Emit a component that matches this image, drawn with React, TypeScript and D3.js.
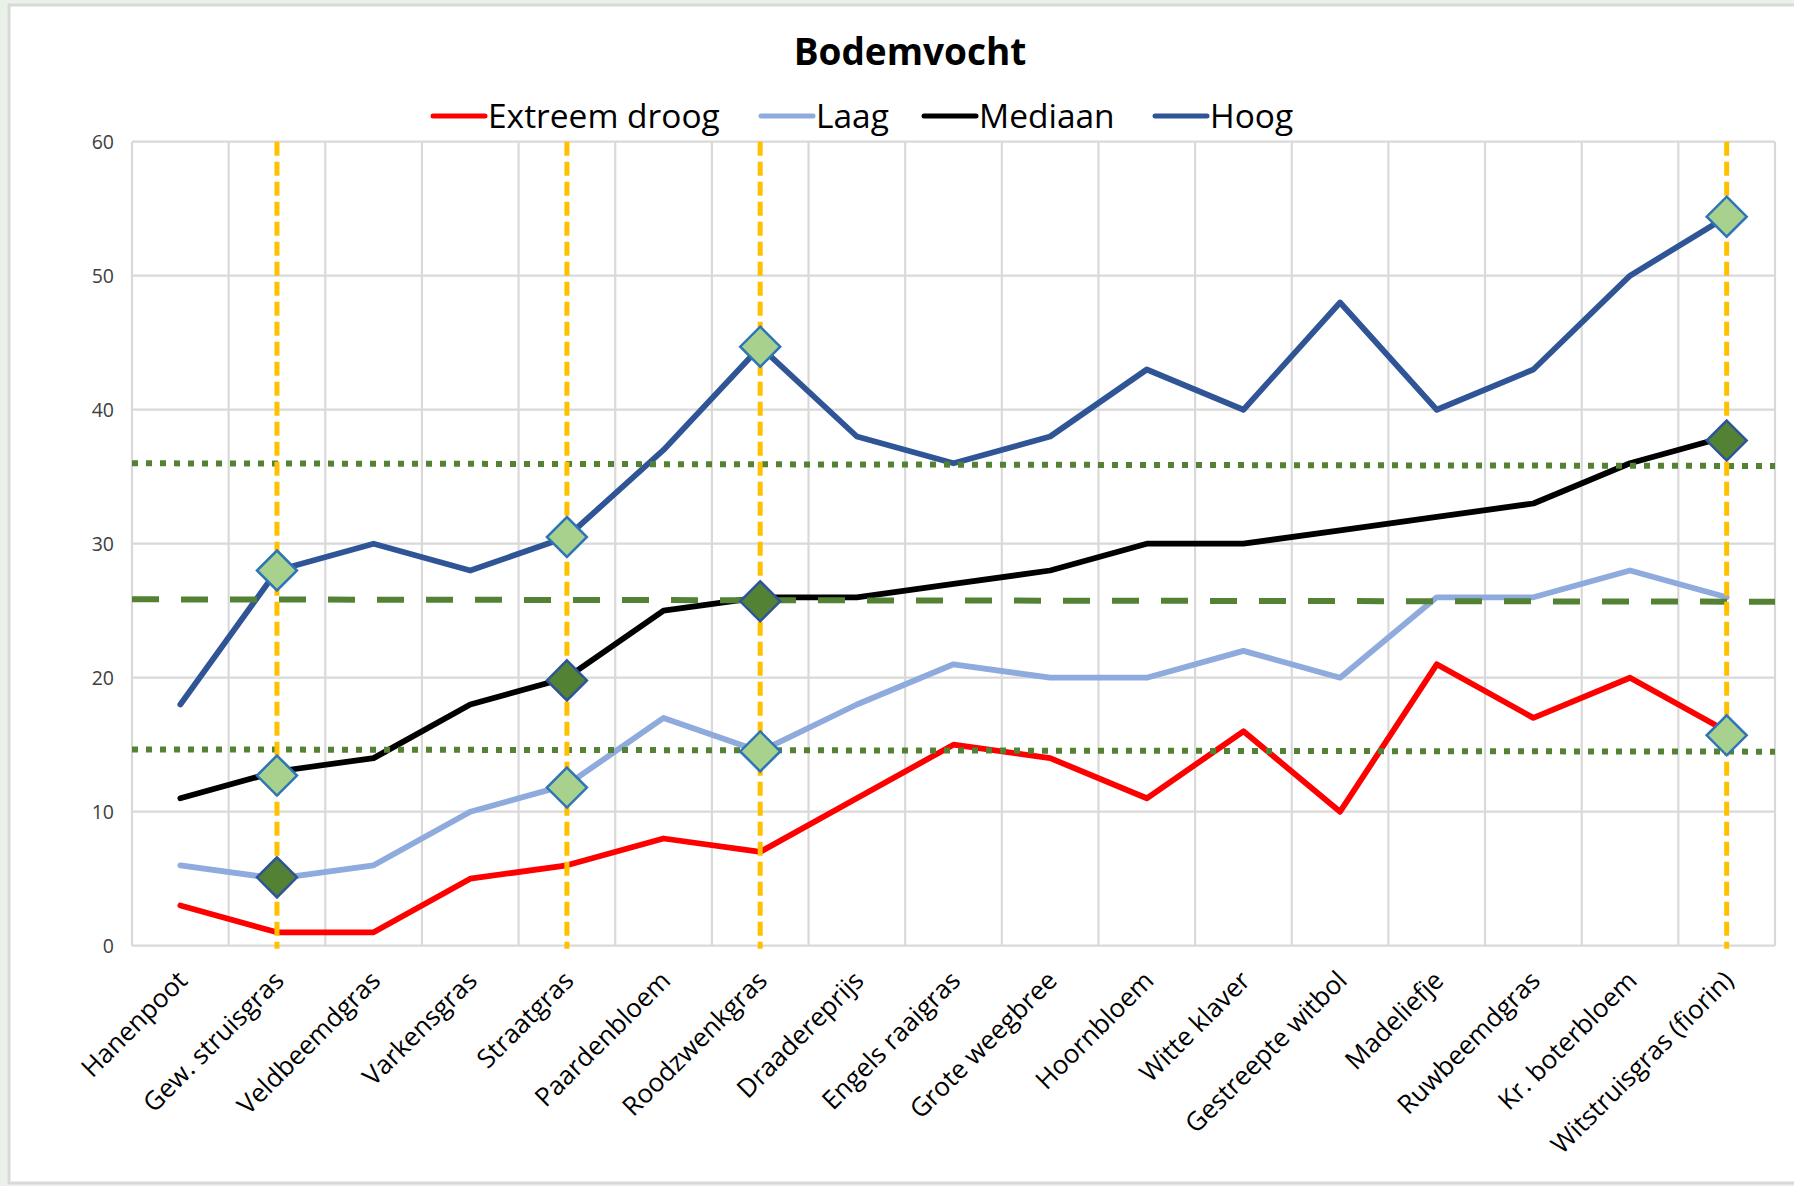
import React from 'react';
import * as d3 from 'd3';

const categories = [
  'Hanenpoot', 'Gew. struisgras', 'Veldbeemdgras', 'Varkensgras', 'Straatgras',
  'Paardenbloem', 'Roodzwenkgras', 'Draadereprijs', 'Engels raaigras', 'Grote weegbree',
  'Hoornbloem', 'Witte klaver', 'Gestreepte witbol', 'Madeliefje', 'Ruwbeemdgras',
  'Kr. boterbloem', 'Witstruisgras (fiorin)',
];
const extreemDroog = [3, 1, 1, 5, 6, 8, 7, 11, 15, 14, 11, 16, 10, 21, 17, 20, 16];
const laag = [6, 5, 6, 10, 12, 17, 14.5, 18, 21, 20, 20, 22, 20, 26, 26, 28, 26];
const mediaan = [11, 13, 14, 18, 20, 25, 26, 26, 27, 28, 30, 30, 31, 32, 33, 36, 38];
const hoog = [18, 28, 30, 28, 30.5, 37, 44.7, 38, 36, 38, 43, 40, 48, 40, 43, 50, 54.4];
const yTicks = [0, 10, 20, 30, 40, 50, 60];

const seriesNames = ['Extreem droog', 'Laag', 'Mediaan', 'Hoog'];
const seriesColors = ['#ff0000', '#8faadc', '#000000', '#2f5597'];

const highlightCategories = ['Gew. struisgras', 'Straatgras', 'Roodzwenkgras', 'Witstruisgras (fiorin)'];
const lightMarkerCats = ['Gew. struisgras', 'Gew. struisgras', 'Straatgras', 'Straatgras', 'Roodzwenkgras', 'Roodzwenkgras', 'Witstruisgras (fiorin)', 'Witstruisgras (fiorin)'];
const lightMarkerValues = [28, 12.7, 30.5, 11.8, 44.7, 14.5, 54.4, 15.7];
const darkMarkerCats = ['Gew. struisgras', 'Straatgras', 'Roodzwenkgras', 'Witstruisgras (fiorin)'];
const darkMarkerValues = [5.1, 19.8, 25.7, 37.7];

const refLineStart = [36.0, 25.85, 14.65];
const refLineEnd = [35.8, 25.67, 14.48];
const refLineDash = ['6 8', '27 22', '6 8'];

const W = 1794;
const H = 1186;
const PL = 132;
const PR = 1775;
const PT = 141.7;
const PB = 945.7;
const FONT = "'Open Sans', 'Noto Sans', sans-serif";

export default function App() {
  const x = d3.scaleBand<string>().domain(categories).range([PL, PR]).padding(0);
  const bw = x.bandwidth();
  const cx = (c: string) => (x(c) as number) + bw / 2;
  const y = d3.scaleLinear().domain([0, 60]).range([PB, PT]);

  const allSeries = [extreemDroog, laag, mediaan, hoog];
  const line = d3
    .line<number>()
    .x((_, i) => cx(categories[i]))
    .y((d) => y(d));

  const boundaries = d3.range(categories.length + 1).map((i) => PL + i * bw);
  const legendX = [433, 761, 924, 1155];
  const diamond = (px: number, py: number, r: number) =>
    `M${px},${py - r}L${px + r},${py}L${px},${py + r}L${px - r},${py}Z`;

  return (
    <svg width={W} height={H} style={{ position: 'absolute', left: 0, top: 0 }} fontFamily={FONT}>
      <rect x={0} y={0} width={W} height={H} fill="#eaf1e9" />
      <rect x={9} y={5} width={W} height={1178} fill="#ffffff" stroke="#d9d9d9" strokeWidth={3} />

      <text x={910} y={65} textAnchor="middle" fontSize={37} fontWeight="bold" fill="#000">
        Bodemvocht
      </text>

      {seriesNames.map((n, i) => (
        <g key={n}>
          <line x1={legendX[i]} x2={legendX[i] + 52} y1={116} y2={116} stroke={seriesColors[i]} strokeWidth={5} strokeLinecap="round" />
          <text x={legendX[i] + 55} y={128} fontSize={33.5} fill="#000">
            {n}
          </text>
        </g>
      ))}

      {yTicks.map((t) => (
        <g key={t}>
          <line x1={PL} x2={PR} y1={y(t)} y2={y(t)} stroke="#d9d9d9" strokeWidth={2.2} />
          <text x={114} y={y(t)} dy="0.35em" textAnchor="end" fontSize={19.5} fill="#404040">
            {t}
          </text>
        </g>
      ))}
      {boundaries.map((b, i) => (
        <line key={i} x1={b} x2={b} y1={PT} y2={PB} stroke="#d9d9d9" strokeWidth={2.2} />
      ))}

      {categories.map((c) => (
        <text
          key={c}
          transform={`translate(${cx(c) + 2},${PB + 30}) rotate(-45)`}
          textAnchor="end"
          dy="0.35em"
          fontSize={26}
          fill="#000"
        >
          {c}
        </text>
      ))}

      {allSeries.map((s, i) => (
        <path key={i} d={line(s) as string} fill="none" stroke={seriesColors[i]} strokeWidth={5.8} strokeLinejoin="round" strokeLinecap="round" />
      ))}

      {refLineStart.map((v, i) => (
        <line key={i} x1={PL} x2={PR} y1={y(v)} y2={y(refLineEnd[i])} stroke="#548235" strokeWidth={6} strokeDasharray={refLineDash[i]} />
      ))}

      {highlightCategories.map((c) => (
        <line key={c} x1={cx(c)} x2={cx(c)} y1={PT} y2={PB + 3} stroke="#ffc000" strokeWidth={5} strokeDasharray="14 6" />
      ))}

      {lightMarkerCats.map((c, i) => (
        <path key={'l' + i} d={diamond(cx(c), y(lightMarkerValues[i]), 20)} fill="#a9d18e" stroke="#2e75b6" strokeWidth={2.5} />
      ))}
      {darkMarkerCats.map((c, i) => (
        <path key={'d' + i} d={diamond(cx(c), y(darkMarkerValues[i]), 20)} fill="#548235" stroke="#2f5597" strokeWidth={2.5} />
      ))}
    </svg>
  );
}
